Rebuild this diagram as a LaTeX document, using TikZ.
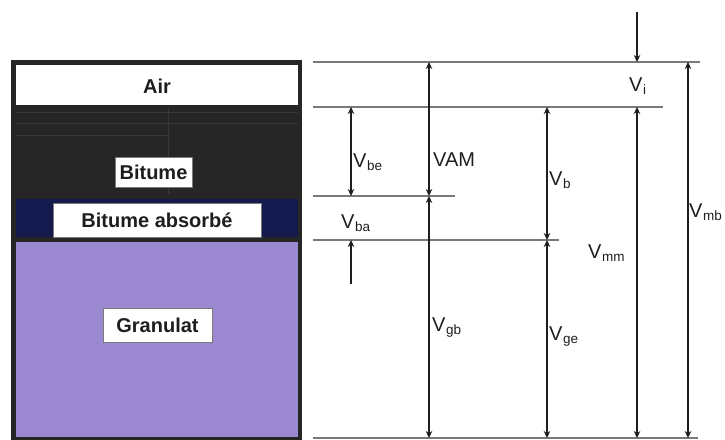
\documentclass[tikz,border=0pt]{standalone}
\usepackage{fontspec}
\setmainfont{Liberation Sans}
\usetikzlibrary{arrows.meta}
\definecolor{frame}{HTML}{262626}
\definecolor{navy}{HTML}{141A4E}
\definecolor{granulat}{HTML}{9A89D1}
\definecolor{ink}{HTML}{1E1E1E}
\definecolor{rule}{HTML}{7A7A7A}
\definecolor{seam}{HTML}{353B3B}
\newcommand{\vol}[2]{V\kern0.5pt\raisebox{-3pt}{\fontsize{13.5}{14}\selectfont #2}}
\begin{document}
\begin{tikzpicture}[x=1pt,y=-1pt,
  level/.style={draw=rule,line width=1.3pt},
  dim/.style={draw=ink,line width=2pt,{Stealth[length=7pt,width=6.5pt]}-{Stealth[length=7pt,width=6.5pt]}},
  onedim/.style={draw=ink,line width=2pt,-{Stealth[length=7pt,width=6.5pt]}},
  tag/.style={inner sep=0pt,text=ink,font=\fontsize{20}{22}\selectfont},
  layerlabel/.style={draw=rule,line width=0.8pt,fill=white,text=ink,inner sep=0pt,
    font=\fontsize{20}{22}\selectfont\bfseries}]
\useasboundingbox (0,0) rectangle (725,439);

% --- phase column ---
\fill[frame] (11,60) rectangle (302,441);
\fill[white] (16,65) rectangle (298,105);
\fill[frame] (16,109) rectangle (298,194);
\draw[seam,line width=0.8pt] (16,112) -- (298,112) (16,123) -- (298,123)
  (16,135) -- (168,135) (168,109) -- (168,194);
\fill[navy] (16,199) rectangle (298,237);
\fill[granulat] (16,242) rectangle (298,437);

\node[tag,font=\fontsize{20}{22}\selectfont\bfseries] (air) at (157,86) {Air};
\node[layerlabel,minimum width=77pt,minimum height=30pt] (bit) at (153.5,172) {Bitume};
\node[layerlabel,minimum width=208pt,minimum height=34pt] (abs) at (157,220) {Bitume absorbé};
\node[layerlabel,minimum width=109pt,minimum height=34pt] (gran) at (157.5,325) {Granulat};

% --- level lines ---
\coordinate (a0) at (313,62);  \coordinate (a1) at (700,62);
\coordinate (b0) at (313,107); \coordinate (b1) at (663,107);
\coordinate (c0) at (313,196); \coordinate (c1) at (455,196);
\coordinate (d0) at (313,240); \coordinate (d1) at (559,240);
\coordinate (e0) at (313,438); \coordinate (e1) at (698,438);
\draw[level] (a0) -- (a1);
\draw[level] (b0) -- (b1);
\draw[level] (c0) -- (c1);
\draw[level] (d0) -- (d1);
\draw[level] (e0) -- (e1);

% --- arrow end points ---
\coordinate (vbeT) at (351,107); \coordinate (vbeB) at (351,196);
\coordinate (vbaS) at (351,284); \coordinate (vbaE) at (351,240);
\coordinate (vamT) at (429,62);  \coordinate (vamB) at (429,196);
\coordinate (vgbT) at (429,196); \coordinate (vgbB) at (429,438);
\coordinate (vbT) at (547,107);  \coordinate (vbB) at (547,240);
\coordinate (vgeT) at (547,240); \coordinate (vgeB) at (547,438);
\coordinate (viS) at (637,12);   \coordinate (viE) at (637,62);
\coordinate (vmmT) at (637,107); \coordinate (vmmB) at (637,438);
\coordinate (vmbT) at (688,62);  \coordinate (vmbB) at (688,438);

\draw[dim] (vbeT) -- (vbeB);
\draw[onedim] (vbaS) -- (vbaE);
\draw[dim] (vamT) -- (vamB);
\draw[dim] (vgbT) -- (vgbB);
\draw[dim] (vbT) -- (vbB);
\draw[dim] (vgeT) -- (vgeB);
\draw[onedim] (viS) -- (viE);
\draw[dim] (vmmT) -- (vmmB);
\draw[dim] (vmbT) -- (vmbB);

% --- labels ---
\node[tag,anchor=base west] (lvbe) at (353,167) {\vol{V}{be}};
\node[tag,anchor=base west] (lvam) at (433,166) {VAM};
\node[tag,anchor=base west] (lvba) at (341,228) {\vol{V}{ba}};
\node[tag,anchor=base west] (lvb)  at (549,185) {\vol{V}{b}};
\node[tag,anchor=base west] (lvi)  at (629,91)  {\vol{V}{i}};
\node[tag,anchor=base west] (lvmb) at (689,217) {\vol{V}{mb}};
\node[tag,anchor=base west] (lvmm) at (588,258) {\vol{V}{mm}};
\node[tag,anchor=base west] (lvgb) at (432,331) {\vol{V}{gb}};
\node[tag,anchor=base west] (lvge) at (549,340) {\vol{V}{ge}};
\end{tikzpicture}
\end{document}
